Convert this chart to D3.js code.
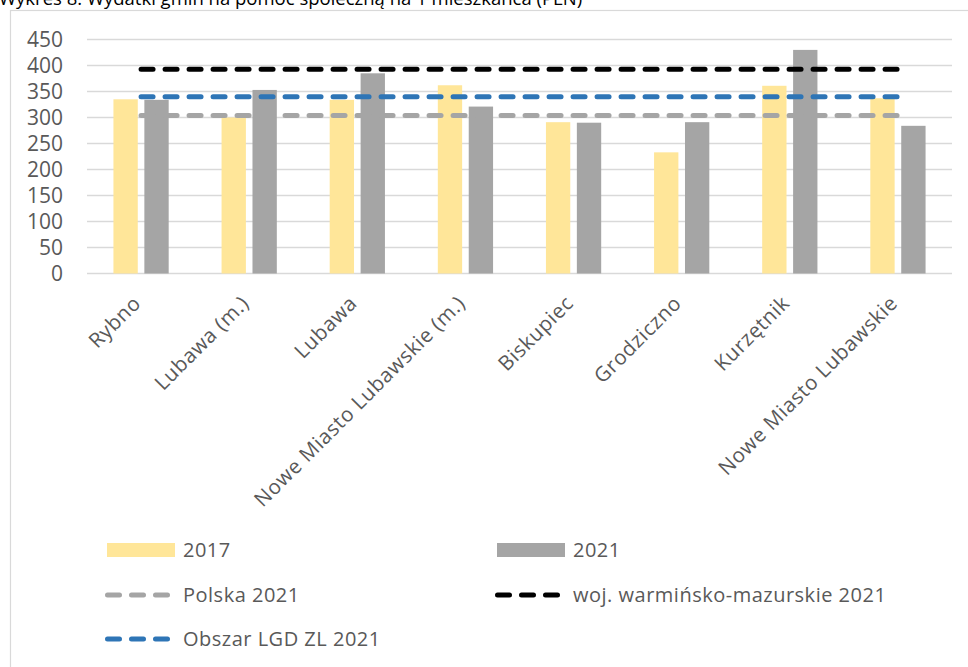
<!DOCTYPE html>
<html>
<head>
<meta charset="UTF-8">
<script src="https://d3js.org/d3.v7.min.js"></script>
<style>
  body { margin: 0; background: #fff; }
  svg { display: block; font-family: "Open Sans", sans-serif; }
</style>
</head>
<body>
<svg id="chart"></svg>
<script>

// data
var gminy = ["Rybno", "Lubawa (m.)", "Lubawa", "Nowe Miasto Lubawskie (m.)", "Biskupiec",
             "Grodziczno", "Kurzętnik", "Nowe Miasto Lubawskie"];
var wyd2017 = [335, 300, 334, 362, 291, 233, 361, 337];
var wyd2021 = [334, 353, 385, 321, 290, 291, 430, 284];
var polska2021 = 304;
var wojewodztwo2021 = 393;
var obszarLGD2021 = 340;
var yTicks = [0, 50, 100, 150, 200, 250, 300, 350, 400, 450];

var W = 968, H = 667;
var margin = {left: 87, right: 16, top: 39.5, bottom: 393.5};

var svg = d3.select("#chart").attr("width", W).attr("height", H);

// title, cut by the top edge like in the original
svg.append("text")
    .attr("x", -1).attr("y", 5)
    .style("font-size", "18.5px")
    .style("fill", "#000")
    .text("Wykres 8. Wydatki gmin na pomoc społeczną na 1 mieszkańca (PLN)");

// chart frame
svg.append("rect")
    .attr("x", 10.5).attr("y", 10.5)
    .attr("width", W).attr("height", H)
    .attr("fill", "none")
    .attr("stroke", "#d9d9d9")
    .attr("stroke-width", 1.2);

var x = d3.scaleBand().domain(gminy).range([margin.left, W - margin.right]);
var y = d3.scaleLinear().domain([0, 450]).range([H - margin.bottom, margin.top]);

var bw = x.bandwidth();
var barW = bw * 0.225;
var shift = bw * 0.143;

// gridlines
svg.append("g").selectAll("line")
    .data(yTicks)
    .join("line")
    .attr("x1", margin.left).attr("x2", W - margin.right)
    .attr("y1", d => y(d)).attr("y2", d => y(d))
    .attr("stroke", "#d9d9d9")
    .attr("stroke-width", 1.5);

// y labels
svg.append("g").selectAll("text")
    .data(yTicks)
    .join("text")
    .attr("x", 63)
    .attr("y", d => y(d))
    .attr("dy", "0.36em")
    .attr("text-anchor", "end")
    .style("font-size", "21px")
    .style("fill", "#595959")
    .text(d => d);

// bars
function cx(name) { return x(name) + bw / 2; }

svg.append("g").selectAll("rect")
    .data(gminy)
    .join("rect")
    .attr("x", (d, i) => cx(d) - shift - barW / 2)
    .attr("y", (d, i) => y(wyd2017[i]))
    .attr("width", barW)
    .attr("height", (d, i) => y(0) - y(wyd2017[i]))
    .attr("fill", "#ffe699");

svg.append("g").selectAll("rect")
    .data(gminy)
    .join("rect")
    .attr("x", (d, i) => cx(d) + shift - barW / 2)
    .attr("y", (d, i) => y(wyd2021[i]))
    .attr("width", barW)
    .attr("height", (d, i) => y(0) - y(wyd2021[i]))
    .attr("fill", "#a5a5a5");

// reference lines (constant series across categories)
var refLines = [
  {val: polska2021, color: "#a5a5a5"},
  {val: wojewodztwo2021, color: "#000000"},
  {val: obszarLGD2021, color: "#2e75b6"}
];
var line = d3.line().x(d => cx(d[0])).y(d => y(d[1]));

svg.append("g").selectAll("path")
    .data(refLines)
    .join("path")
    .attr("d", r => line(gminy.map(g => [g, r.val])))
    .attr("fill", "none")
    .attr("stroke", r => r.color)
    .attr("stroke-width", 5)
    .attr("stroke-linecap", "round")
    .attr("stroke-dasharray", "12,12");

// x labels
svg.append("g").selectAll("text")
    .data(gminy)
    .join("text")
    .attr("text-anchor", "end")
    .attr("transform", d => "translate(" + (cx(d) + 1) + "," + (y(0) + 31) + ") rotate(-45)")
    .style("font-size", "20.5px")
    .style("letter-spacing", "0.6px")
    .style("fill", "#595959")
    .text(d => d);

// legend
var legend = [
  {label: "2017", type: "bar", color: "#ffe699", x: 107, y: 550},
  {label: "2021", type: "bar", color: "#a5a5a5", x: 497, y: 550},
  {label: "Polska 2021", type: "line", color: "#a5a5a5", x: 107, y: 595},
  {label: "woj. warmińsko-mazurskie 2021", type: "line", color: "#000000", x: 497, y: 595},
  {label: "Obszar LGD ZL 2021", type: "line", color: "#2e75b6", x: 107, y: 639}
];

var lg = svg.append("g").selectAll("g")
    .data(legend)
    .join("g")
    .attr("transform", d => "translate(" + d.x + "," + d.y + ")");

lg.filter(d => d.type == "bar").append("rect")
    .attr("x", 0).attr("y", -7)
    .attr("width", 68).attr("height", 14)
    .attr("fill", d => d.color);

lg.filter(d => d.type == "line").append("line")
    .attr("x1", 0.5).attr("x2", 66)
    .attr("y1", 0).attr("y2", 0)
    .attr("stroke", d => d.color)
    .attr("stroke-width", 5)
    .attr("stroke-linecap", "round")
    .attr("stroke-dasharray", "12,12");

lg.append("text")
    .attr("x", 76)
    .attr("dy", "0.36em")
    .style("font-size", "20px")
    .style("letter-spacing", "0.5px")
    .style("fill", "#595959")
    .text(d => d.label);

</script>
</body>
</html>
